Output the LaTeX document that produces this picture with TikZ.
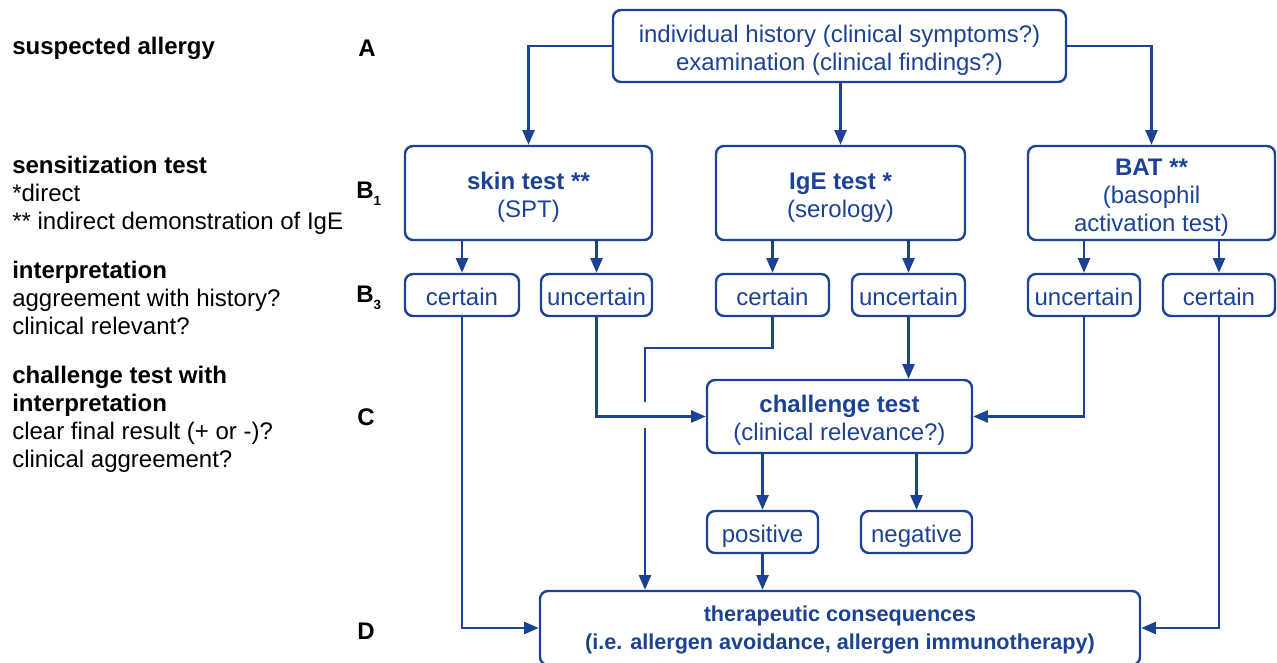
\documentclass[tikz,border=0pt]{standalone}
\usepackage{fontspec}
\setmainfont{Liberation Sans}
\usetikzlibrary{arrows.meta}
\definecolor{dblue}{RGB}{28,66,148}
\tikzset{
  box/.style={draw=dblue, line width=1.8pt, rounded corners=6pt, text=dblue, inner sep=0pt,
    font=\fontsize{18}{21}\selectfont},
  arr/.style={draw=dblue, line width=1.8pt, -{Triangle[length=11pt,width=9pt]}},
  ln/.style={draw=dblue, line width=1.8pt},
  lbl/.style={anchor=west, inner sep=0pt, align=left, font=\fontsize{18}{21}\selectfont},
  lett/.style={inner sep=0pt, font=\fontsize{18}{21}\selectfont\bfseries},
}
\newcommand\boxtext[2]{\raisebox{#1}[\height][\depth]{\begin{tabular}{@{}c@{}}#2\end{tabular}}}
\newcommand\mkbox[6]{\node[box, minimum width=#3*0.75pt, minimum height=#4*0.75pt] (#1) at ({(#5+#3/2)},{(#6+#4/2)}) {\boxtext{-3.4pt}{#2}};}
\begin{document}
\begin{tikzpicture}[x=0.75pt,y=-0.75pt]
\useasboundingbox (0,0) rectangle (1277,663);
% boxes (name, text, w, h, left, top)
\mkbox{A}{individual history (clinical symptoms?)\\examination (clinical findings?)}{453}{72}{613}{10}
\mkbox{skin}{\textbf{skin test **}\\(SPT)}{247}{94}{405}{146}
\mkbox{ige}{\textbf{IgE test *}\\(serology)}{249}{94}{716}{146}
\mkbox{bat}{\textbf{BAT **}\\(basophil\\activation test)}{247}{94}{1028}{146}
\mkbox{c1}{certain}{114}{42}{405}{274}
\mkbox{u1}{uncertain}{111}{42}{541}{274}
\mkbox{c2}{certain}{113}{42}{716}{274}
\mkbox{u2}{uncertain}{113}{42}{852}{274}
\mkbox{u3}{uncertain}{112}{42}{1028}{274}
\mkbox{c3}{certain}{112}{42}{1163}{274}
\mkbox{ch}{\textbf{challenge test}\\(clinical relevance?)}{265}{73}{707}{380}
\mkbox{pos}{positive}{111}{42}{707}{511}
\mkbox{neg}{negative}{111}{42}{861}{511}
\node[box, minimum width=600*0.75pt, minimum height=74*0.75pt, font=\fontsize{16.2}{20.8}\selectfont\bfseries] (T) at (840,628) {\boxtext{-1.5pt}{therapeutic consequences\\(i.e. allergen avoidance, allergen immunotherapy)}};
% connectors
\draw[arr] (A.west) -| (skin.north);
\draw[arr] (A.south -| ige.north) -- (ige.north);
\draw[arr] (A.east) -| (bat.north);
\draw[arr] (skin.south -| c1.north) -- (c1.north);
\draw[arr] (skin.south -| u1.north) -- (u1.north);
\draw[arr] (ige.south -| c2.north) -- (c2.north);
\draw[arr] (ige.south -| u2.north) -- (u2.north);
\draw[arr] (bat.south -| u3.north) -- (u3.north);
\draw[arr] (bat.south -| c3.north) -- (c3.north);
\draw[arr] (c1.south) |- (T.west);
\draw[arr] (u1.south) |- (ch.west);
\coordinate (hop) at (645,348);
\coordinate (gapA) at (645,402);
\coordinate (gapB) at (645,428);
\draw[ln] (c2.south) |- (hop) -- (gapA);
\draw[arr] (gapB) -- (gapB |- T.north);
\draw[arr] (u2.south) -- (u2.south |- ch.north);
\draw[arr] (u3.south) |- (ch.east);
\draw[arr] (c3.south) |- (T.east);
\draw[arr] (ch.south -| pos.north) -- (pos.north);
\draw[arr] (ch.south -| neg.north) -- (neg.north);
\draw[arr] (pos.south) -- (pos.south |- T.north);
% left column
\node[lbl] (l1) at (12,48) {\textbf{suspected allergy}};
\node[lbl] (l2) at (12,195) {\textbf{sensitization test}\\*direct\\** indirect demonstration of IgE};
\node[lbl] (l3) at (12,298) {\textbf{interpretation}\\aggreement with history?\\clinical relevant?};
\node[lbl] (l4) at (12,419) {\textbf{challenge test with}\\\textbf{interpretation}\\clear final result (+ or -)?\\clinical aggreement?};
\node[lett] (LA) at (367,48) {A};
\node[lett, anchor=west] (LB1) at (356,194) {B\raisebox{-5pt}{\fontsize{10}{10}\selectfont 1}};
\node[lett, anchor=west] (LB3) at (356,298) {B\raisebox{-5pt}{\fontsize{10}{10}\selectfont 3}};
\node[lett] (LC) at (366,417) {C};
\node[lett] (LD) at (366,631) {D};
\end{tikzpicture}
\end{document}
